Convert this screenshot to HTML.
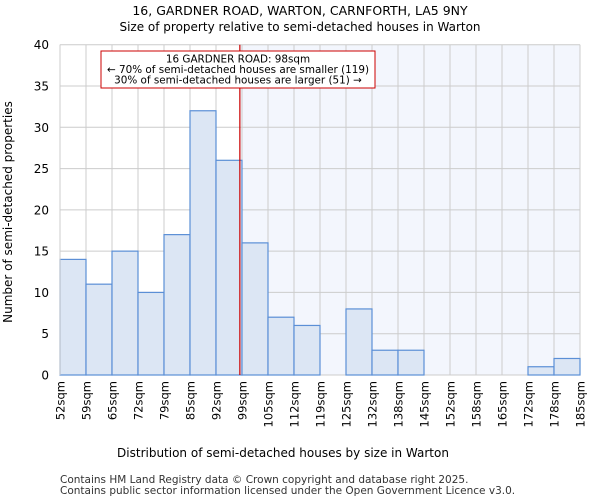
<!DOCTYPE html>
<html><head><meta charset="utf-8"><style>
body{margin:0;background:#fff;font-family:"DejaVu Sans","Liberation Sans",sans-serif}
</style></head><body>
<svg id="c" width="600" height="500" xmlns="http://www.w3.org/2000/svg" font-family="DejaVu Sans, Liberation Sans, sans-serif">
<text x="300" y="15" font-size="12.5" text-anchor="middle">16, GARDNER ROAD, WARTON, CARNFORTH, LA5 9NY</text>
<text x="300" y="31" font-size="12" text-anchor="middle">Size of property relative to semi-detached houses in Warton</text>
<g id="plot"></g>
<text x="283" y="457" font-size="12" text-anchor="middle">Distribution of semi-detached houses by size in Warton</text>
<text transform="translate(12,212) rotate(-90)" font-size="12" text-anchor="middle">Number of semi-detached properties</text>
<text x="60" y="483" font-size="10.5" fill="#333">Contains HM Land Registry data © Crown copyright and database right 2025.</text>
<text x="60" y="494" font-size="10.5" fill="#333">Contains public sector information licensed under the Open Government Licence v3.0.</text>
</svg>
<script>
const tickLabels=["52sqm","59sqm","65sqm","72sqm","79sqm","85sqm","92sqm","99sqm","105sqm","112sqm","119sqm","125sqm","132sqm","138sqm","145sqm","152sqm","158sqm","165sqm","172sqm","178sqm","185sqm"];
const counts=[14,11,15,10,17,32,26,16,7,6,0,8,3,3,0,0,0,0,1,2];
const yTicks=[0,5,10,15,20,25,30,35,40];
const xMin=52, xMax=185, marker=98;
const L=60,R=580,T=44.7,B=375;
const NS="http://www.w3.org/2000/svg";
const g=document.getElementById('plot');
const n=counts.length;
const xb=i=>L+(R-L)*i/n;
const xv=v=>L+(R-L)*(v-xMin)/(xMax-xMin);
const y=v=>B-(B-T)*v/40;
function el(t,a){const e=document.createElementNS(NS,t);for(const k in a)e.setAttribute(k,a[k]);g.appendChild(e);return e;}
let e;
e=el('rect',{x:xv(marker),y:T,width:R-xv(marker),height:B-T,fill:'#f3f6fd'});


for(let i=0;i<=n;i++){e=el('line',{x1:xb(i),x2:xb(i),y1:T,y2:B,stroke:'#ccc','stroke-width':1});

}
yTicks.forEach(t=>{e=el('line',{x1:L,x2:R,y1:y(t),y2:y(t),stroke:'#ccc','stroke-width':1});


e=el('text',{x:L-11,y:y(t)+4.5,'font-size':12,'text-anchor':'end'});e.textContent=t;

});
counts.forEach((c,i)=>{if(c<=0)return;e=el('rect',{x:xb(i),y:y(c),width:xb(i+1)-xb(i),height:B-y(c),fill:'#dce6f4',stroke:'#5b8fd6','stroke-width':1.2});

});
tickLabels.forEach((t,i)=>{const x=xb(i);e=el('text',{transform:`translate(${x+4.5},${B+6}) rotate(-90)`,'font-size':11.5,'text-anchor':'end'});e.textContent=t;

});
e=el('line',{x1:L,x2:L,y1:T,y2:B,stroke:'#ccc'});


e=el('line',{x1:xv(marker),x2:xv(marker),y1:T,y2:B,stroke:'#c00','stroke-width':1.2});


e=el('rect',{x:101,y:51,width:274,height:37,fill:'#fff',stroke:'#c00','stroke-width':1});


["16 GARDNER ROAD: 98sqm","← 70% of semi-detached houses are smaller (119)","30% of semi-detached houses are larger (51) →"].forEach((s,k)=>{e=el('text',{x:238,y:62.5+k*10.5,'font-size':10.4,'text-anchor':'middle'});e.textContent=s;

});
</script>
</body></html>
